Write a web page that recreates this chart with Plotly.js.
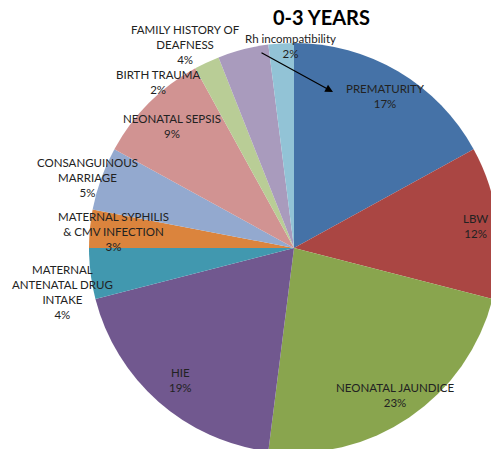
<!DOCTYPE html>
<html>
<head>
<meta charset="utf-8">
<script src="https://cdn.plot.ly/plotly-3.0.1.min.js"></script>
<style>
html, body { margin:0; padding:0; width:491px; height:449px; overflow:hidden; background:#fff; }
#chart { width:600px; height:500px; position:absolute; left:0; top:0; }
</style>
</head>
<body>
<div id="chart"></div>
<script>
// ---- data ----
const categories = [
  "PREMATURITY", "LBW", "NEONATAL JAUNDICE", "HIE",
  "MATERNAL ANTENATAL DRUG INTAKE", "MATERNAL SYPHILIS & CMV INFECTION",
  "CONSANGUINOUS MARRIAGE", "NEONATAL SEPSIS", "BIRTH TRAUMA",
  "FAMILY HISTORY OF DEAFNESS", "Rh incompatibility"
];
const labelLines = [
  ["PREMATURITY"], ["LBW"], ["NEONATAL JAUNDICE"], ["HIE"],
  ["MATERNAL", "ANTENATAL DRUG", "INTAKE"],
  ["MATERNAL SYPHILIS", "& CMV INFECTION"],
  ["CONSANGUINOUS", "MARRIAGE"], ["NEONATAL SEPSIS"], ["BIRTH TRAUMA"],
  ["FAMILY HISTORY OF", "DEAFNESS"], ["Rh incompatibility"]
];
const values = [17, 12, 23, 19, 4, 3, 5, 9, 2, 4, 2];
const chartTitle = "0-3 YEARS";

// ---- styling / layout ----
const colors = ["#4572A7", "#AA4643", "#89A54E", "#71588F", "#4198AF", "#DB843D",
                "#93A9CF", "#D19392", "#B9CD96", "#A99BBD", "#92C3D6"];
const W = 600, H = 500;
const cx = 294, cy = 248, R = 205;
// label centre positions (pixels)
const labelPos = [
  [385, 96], [475, 226], [395, 395], [180, 380], [62, 292], [113, 232],
  [87, 177], [172, 126], [158, 82], [185, 45], [290, 46]
];
const px = x => x / W;
const py = y => 1 - y / H;

const annotations = categories.map((c, i) => ({
  xref: 'paper', yref: 'paper',
  x: px(labelPos[i][0]), y: py(labelPos[i][1]),
  xanchor: 'center', yanchor: 'middle', align: 'center',
  text: labelLines[i].concat([values[i] + '%']).join('<br>'),
  showarrow: false,
  font: {family: 'Lato, sans-serif', size: 11.5, color: '#222'}
}));
annotations.push({
  xref: 'paper', yref: 'paper', x: px(333), y: py(92),
  ax: -73, ay: -40, axref: 'pixel', ayref: 'pixel',
  showarrow: true, arrowhead: 2, arrowsize: 1.3, arrowwidth: 1.2, arrowcolor: '#000',
  text: ''
});
annotations.push({
  xref: 'paper', yref: 'paper', x: px(321), y: py(17),
  xanchor: 'center', yanchor: 'middle', showarrow: false,
  text: '<b>' + chartTitle + '</b>',
  font: {family: 'Lato, sans-serif', size: 20, color: '#000'}
});

const trace = {
  type: 'pie',
  labels: categories,
  values: values,
  sort: false,
  direction: 'clockwise',
  rotation: 0,
  textinfo: 'none',
  hoverinfo: 'none',
  marker: {colors: colors, line: {width: 0}},
  domain: {x: [px(cx - R), px(cx + R)], y: [py(cy + R), py(cy - R)]},
  showlegend: false
};

Plotly.newPlot('chart', [trace], {
  width: W, height: H,
  margin: {l: 0, r: 0, t: 0, b: 0},
  paper_bgcolor: '#fff',
  showlegend: false,
  annotations: annotations
}, {staticPlot: true});
</script>
</body>
</html>
